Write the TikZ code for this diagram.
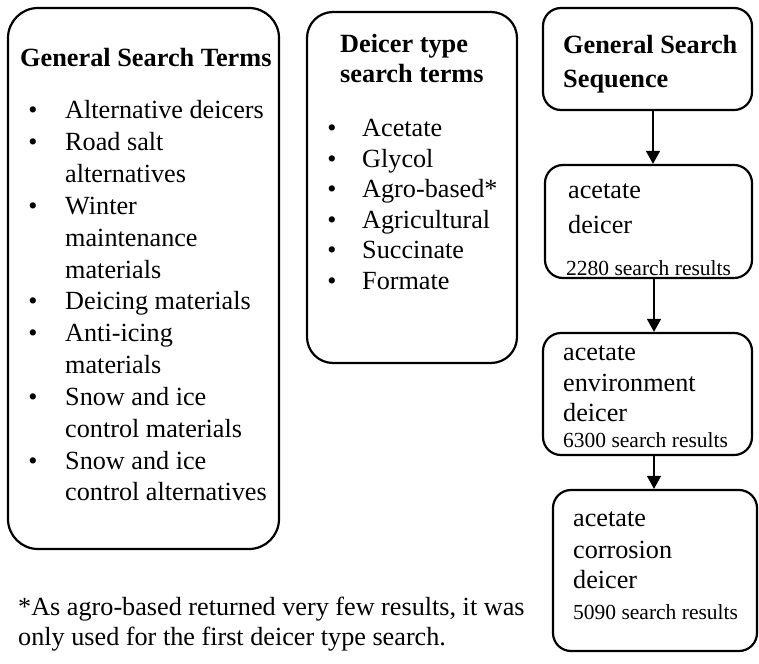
\documentclass[tikz,border=0pt]{standalone}
\usepackage{fontspec}
\setmainfont{Liberation Serif}
\usetikzlibrary{arrows.meta}
\begin{document}
\begin{tikzpicture}[x=1pt,y=-1pt,
  box/.style={draw, line width=2.2pt, inner sep=0pt},
  txt/.style={anchor=base west, inner sep=0pt, font=\fontsize{26.2}{30}\selectfont},
  ttl/.style={anchor=base west, inner sep=0pt, font=\fontsize{26.3}{30}\selectfont\bfseries},
  small/.style={anchor=base west, inner sep=0pt, font=\fontsize{21.5}{26}\selectfont},
  bul/.style={anchor=base, inner sep=0pt, font=\fontsize{26}{30}\selectfont},
  conn/.style={line width=1.3pt, -{Triangle[width=14pt,length=13pt]}}]
\useasboundingbox (0,0) rectangle (759,663);
% box 1
\node[box, rounded corners=30pt, minimum width=271pt, minimum height=541pt] (b1) at (143.5,278.5) {};
\node[ttl] (t1) at (20,67) {General Search Terms};
\foreach \t [count=\i from 0] in {Alternative deicers,Road salt,alternatives,Winter,maintenance,materials,Deicing materials,Anti-icing,materials,Snow and ice,control materials,Snow and ice,control alternatives}
  \node[txt] (g\i) at (65,119+31.83*\i) {\t};
\foreach \i in {0,1,3,6,7,9,11}
  \node[bul] (gb\i) at (33,119+31.83*\i) {\textbullet};
% box 2
\node[box, rounded corners=26pt, minimum width=210pt, minimum height=351pt] (b2) at (412,187.5) {};
\node[ttl] (t2a) at (340,53) {Deicer type};
\node[ttl] (t2b) at (340,83) {search terms};
\foreach \t [count=\i from 0] in {Acetate,Glycol,Agro-based*,Agricultural,Succinate,Formate}
  {\node[txt] (d\i) at (362,137+30.4*\i) {\t};
   \node[bul] (db\i) at (332,137+30.4*\i) {\textbullet};}
% sequence
\node[box, rounded corners=18pt, minimum width=209pt, minimum height=102pt] (s0) at (647.5,59) {};
\node[ttl] (s0a) at (563,54) {General Search};
\node[ttl] (s0b) at (563,88) {Sequence};
\node[box, rounded corners=18pt, minimum width=207pt, minimum height=113pt] (s1) at (648.5,221.5) {};
\node[txt] (s1a) at (568,198) {acetate};
\node[txt] (s1b) at (568,233) {deicer};
\node[small] (s1c) at (566,275) {2280 search results};
\node[box, rounded corners=18pt, minimum width=209pt, minimum height=122pt] (s2) at (647.5,394) {};
\node[txt] (s2a) at (563,360) {acetate};
\node[txt] (s2b) at (563,391) {environment};
\node[txt] (s2c) at (563,421) {deicer};
\node[small] (s2d) at (563,447) {6300 search results};
\node[box, rounded corners=18pt, minimum width=204pt, minimum height=161pt] (s3) at (655,570.5) {};
\node[txt] (s3a) at (573,526) {acetate};
\node[txt] (s3b) at (573,558) {corrosion};
\node[txt] (s3c) at (573,588) {deicer};
\node[small] (s3d) at (573,619) {5090 search results};
\coordinate (a0) at (653,110);
\draw[conn] (s0.south -| a0) -- (s1.north -| a0);
\coordinate (a1) at (654,110);
\draw[conn] (s1.south -| a1) -- (s2.north -| a1);
\draw[conn] (s2.south -| a1) -- (s3.north -| a1);
% footnote
\node[txt] (f1) at (18,615) {*As agro-based returned very few results, it was};
\node[txt] (f2) at (18,645) {only used for the first deicer type search.};
\end{tikzpicture}
\end{document}
